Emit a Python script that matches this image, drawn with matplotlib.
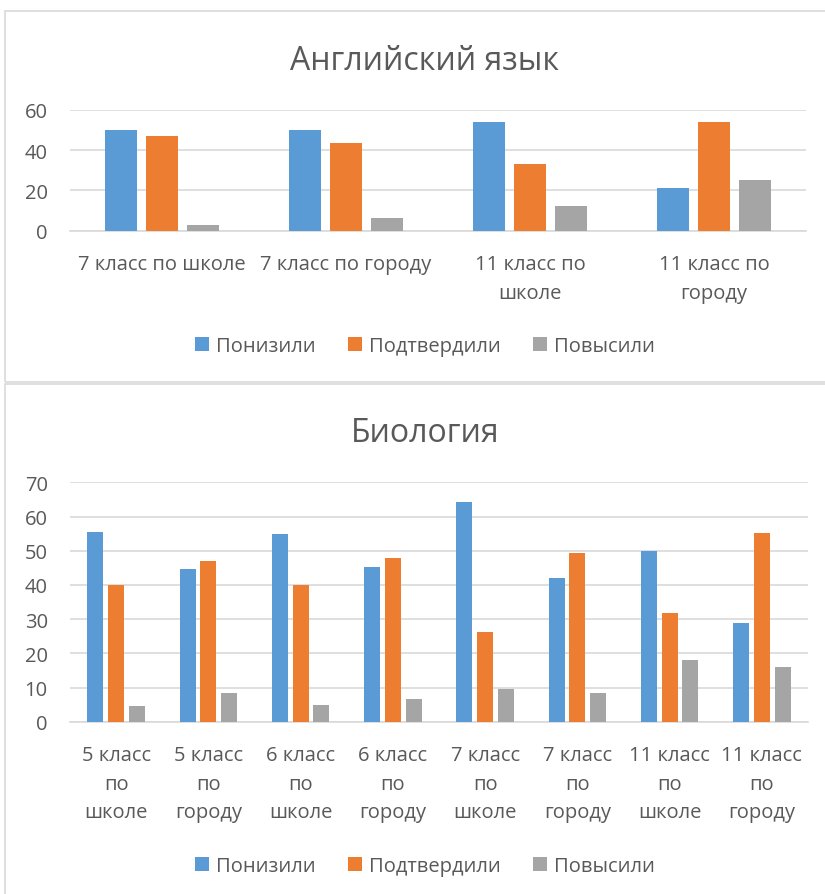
import numpy as np
import matplotlib
matplotlib.use('Agg')
import matplotlib.pyplot as plt
from matplotlib.patches import Rectangle

plt.rcParams['font.family'] = ['Open Sans', 'DejaVu Sans']

# данные
series = ['Понизили', 'Подтвердили', 'Повысили']
colors = ['#5b9bd5', '#ed7d31', '#a5a5a5']

eng_cats = ['7 класс по школе', '7 класс по городу', '11 класс по\nшколе', '11 класс по\nгороду']
eng_down = [50, 50, 54, 21]
eng_same = [46.8, 43.6, 33.2, 53.7]
eng_up = [2.8, 6.1, 12.4, 25.1]

bio_cats = ['5 класс\nпо\nшколе', '5 класс\nпо\nгороду', '6 класс\nпо\nшколе', '6 класс\nпо\nгороду',
            '7 класс\nпо\nшколе', '7 класс\nпо\nгороду', '11 класс\nпо\nшколе', '11 класс\nпо\nгороду']
bio_down = [55.6, 44.7, 55, 45.2, 64.3, 42.1, 49.9, 28.9]
bio_same = [40, 47, 40, 48, 26.1, 49.3, 31.8, 55.2]
bio_up = [4.5, 8.4, 4.9, 6.6, 9.6, 8.4, 18.1, 16]

W, H = 825, 895
txt = '#595959'
grid = '#d9d9d9'
fs = 14.5

fig = plt.figure(figsize=(W / 100, H / 100), dpi=100)

# рамки диаграмм
def px_rect(x0, y0, x1, y1):
    return Rectangle((x0 / W, 1 - y1 / H), (x1 - x0) / W, (y1 - y0) / H,
                     transform=fig.transFigure, fill=False, edgecolor=grid, lw=1.2)

fig.patches.append(px_rect(4.5, 12, 830, 383))
fig.patches.append(px_rect(4.5, 385, 830, 900))


def draw(ax, cats, vals, ymax, step, pitch, bw, title, title_y, leg_y):
    x = np.arange(len(cats))
    for i, (v, c) in enumerate(zip(vals, colors)):
        ax.bar(x + (i - 1) * pitch, v, bw, color=c, label=series[i], zorder=3)
    ax.set_xlim(-0.5, len(cats) - 0.5)
    ax.set_ylim(0, ymax)
    ax.set_yticks(np.arange(0, ymax + 1, step))
    ax.set_xticks(x)
    ax.set_xticklabels(cats, linespacing=1.55)
    ax.grid(axis='y', color=grid, lw=1.2, zorder=0)
    for s in ['top', 'right', 'left']:
        ax.spines[s].set_visible(False)
    ax.spines['bottom'].set_color(grid)
    ax.spines['bottom'].set_linewidth(1.2)
    ax.tick_params(length=0, labelsize=fs, colors=txt)
    ax.tick_params(axis='y', pad=16)
    ax.tick_params(axis='x', pad=17)
    fig.text(425 / W, 1 - title_y / H, title, ha='center', va='center',
             fontsize=23, color=txt)
    h, l = ax.get_legend_handles_labels()
    fig.legend(h, l, loc='center', bbox_to_anchor=(425 / W, 1 - leg_y / H), ncol=3,
               frameon=False, fontsize=fs, labelcolor=txt, handlelength=0.7,
               handleheight=0.7, handletextpad=0.35, columnspacing=1.6)


ax1 = fig.add_axes([70 / W, 1 - 231.7 / H, 736 / W, 121 / H])
draw(ax1, eng_cats, [eng_down, eng_same, eng_up], 60, 20, 0.221, 0.174,
     'Английский язык', 61, 347)

ax2 = fig.add_axes([70 / W, 1 - 722.7 / H, 738 / W, 239.4 / H])
draw(ax2, bio_cats, [bio_down, bio_same, bio_up], 70, 10, 0.224, 0.173,
     'Биология', 434, 867)

fig.savefig('out.png', dpi=100)
